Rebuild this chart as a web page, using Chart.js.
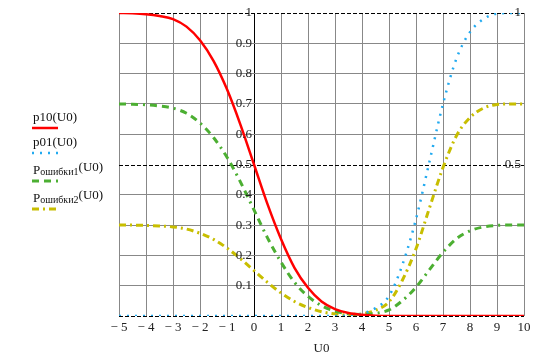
<!DOCTYPE html>
<html>
<head>
<meta charset="utf-8">
<script src="https://cdn.jsdelivr.net/npm/chart.js@4/dist/chart.umd.min.js"></script>
<style>
  html, body { margin: 0; padding: 0; background: #fff; }
  #wrap { width: 547px; height: 364px; }
</style>
</head>
<body>
<div id="wrap"><canvas id="chart"></canvas></div>
<script>
// U0 values (step 0.5) and the four curves
var u0 = [-5, -4.5, -4, -3.5, -3, -2.5, -2, -1.5, -1, -0.5, 0, 0.5, 1, 1.5, 2, 2.5, 3, 3.5, 4, 4.5, 5, 5.5, 6, 6.5, 7, 7.5, 8, 8.5, 9, 9.5, 10];
var p10 = [1.0, 0.999, 0.996, 0.99, 0.98, 0.955, 0.91, 0.842, 0.748, 0.631, 0.5, 0.369, 0.254, 0.159, 0.093, 0.048, 0.023, 0.01, 0.004, 0.001, 0, 0, 0, 0, 0, 0, 0, 0, 0, 0, 0];
var p01 = [0, 0, 0, 0, 0, 0, 0, 0, 0, 0, 0, 0, 0, 0, 0, 0, 0, 0, 0.008, 0.026, 0.066, 0.17, 0.32, 0.51, 0.70, 0.85, 0.937, 0.98, 0.998, 1.0, 1.0];
var pErr1 = [0.70, 0.699, 0.697, 0.693, 0.686, 0.669, 0.637, 0.589, 0.524, 0.442, 0.35, 0.258, 0.178, 0.111, 0.065, 0.034, 0.016, 0.007, 0.005, 0.009, 0.020, 0.051, 0.095, 0.153, 0.21, 0.255, 0.281, 0.294, 0.299, 0.3, 0.3];
var pErr2 = [0.30, 0.30, 0.299, 0.297, 0.294, 0.287, 0.273, 0.253, 0.224, 0.189, 0.15, 0.111, 0.076, 0.048, 0.028, 0.014, 0.007, 0.003, 0.007, 0.019, 0.047, 0.119, 0.222, 0.357, 0.49, 0.595, 0.655, 0.686, 0.698, 0.70, 0.70];

// dashed marker lines and their labels on the right
var markerLevels = [0, 0.5, 1];
var markerLabels = ['', '0.5', '1'];

var FONT = "'Liberation Serif', 'Times New Roman', serif";

function pairs(ys) {
	return u0.map(function(x, i) { return { x: x, y: ys[i] }; });
}

var mathcadDecor = {
	id: 'mathcadDecor',
	beforeDatasetsDraw: function(chart) {
		var ctx = chart.ctx, a = chart.chartArea, y = chart.scales.y;
		ctx.save();
		ctx.strokeStyle = '#000';
		ctx.lineWidth = 1;
		ctx.setLineDash([4, 2]);
		markerLevels.forEach(function(v) {
			var py = Math.round(y.getPixelForValue(v)) + 0.5;
			ctx.beginPath();
			ctx.moveTo(a.left, py);
			ctx.lineTo(a.right, py);
			ctx.stroke();
		});
		ctx.restore();
	},
	afterDraw: function(chart) {
		var ctx = chart.ctx, a = chart.chartArea, x = chart.scales.x, y = chart.scales.y;
		ctx.save();
		ctx.fillStyle = '#222';
		ctx.font = '13px ' + FONT;
		ctx.textBaseline = 'middle';

		// y tick labels next to the U0 = 0 axis
		ctx.textAlign = 'right';
		var x0 = x.getPixelForValue(0);
		y.ticks.forEach(function(t) {
			if (t.value <= 0) return;
			var lbl = Math.round(t.value * 10) / 10;
			ctx.fillText(String(lbl), x0 - 2, y.getPixelForValue(t.value));
		});

		// marker labels at the right edge
		markerLevels.forEach(function(v, i) {
			if (markerLabels[i]) ctx.fillText(markerLabels[i], a.right - 3, y.getPixelForValue(v));
		});

		// legend on the left
		ctx.textAlign = 'left';
		ctx.textBaseline = 'alphabetic';
		var ds = chart.data.datasets;
		var items = [
			{ main: 'p10(U0)', sub: '', tail: '', base: 121, line: 128 },
			{ main: 'p01(U0)', sub: '', tail: '', base: 146, line: 153 },
			{ main: 'P', sub: 'ошибки1', tail: '(U0)', base: 174, line: 181 },
			{ main: 'P', sub: 'ошибки2', tail: '(U0)', base: 202, line: 209 }
		];
		items.forEach(function(it, i) {
			var tx = 33;
			ctx.font = '13px ' + FONT;
			ctx.fillStyle = '#111';
			ctx.fillText(it.main, tx, it.base);
			tx += ctx.measureText(it.main).width;
			if (it.sub) {
				ctx.font = '10px ' + FONT;
				ctx.fillText(it.sub, tx, it.base + 1);
				tx += ctx.measureText(it.sub).width;
				ctx.font = '13px ' + FONT;
				ctx.fillText(it.tail, tx, it.base - 3);
			}
			ctx.strokeStyle = ds[i].borderColor;
			ctx.lineWidth = ds[i].borderWidth;
			ctx.setLineDash(ds[i].borderDash || []);
			ctx.beginPath();
			ctx.moveTo(32, it.line);
			ctx.lineTo(58, it.line);
			ctx.stroke();
		});
		ctx.restore();
	}
};

var chart = new Chart(document.getElementById('chart'), {
	type: 'line',
	data: {
		datasets: [
			{ label: 'p10(U0)', data: pairs(p10), borderColor: '#ff0000', borderWidth: 2.5, borderDash: [] },
			{ label: 'p01(U0)', data: pairs(p01), borderColor: '#22aaf0', borderWidth: 2.5, borderDash: [2, 6] },
			{ label: 'Pошибки1(U0)', data: pairs(pErr1), borderColor: '#4caf32', borderWidth: 3, borderDash: [7, 5, 7, 5, 2, 5] },
			{ label: 'Pошибки2(U0)', data: pairs(pErr2), borderColor: '#c8be00', borderWidth: 3, borderDash: [7, 4, 2, 4] }
		]
	},
	options: {
		responsive: true,
		maintainAspectRatio: false,
		animation: false,
		layout: { padding: { left: 119, right: 23, top: 13, bottom: 0 } },
		elements: {
			point: { radius: 0 },
			line: { cubicInterpolationMode: 'monotone', fill: false }
		},
		plugins: {
			legend: { display: false },
			tooltip: { enabled: false }
		},
		scales: {
			x: {
				type: 'linear',
				min: -5,
				max: 10,
				afterFit: function(s) { s.height = 48; },
				border: { display: false },
				grid: {
					drawTicks: false,
					color: function(c) { return c.tick && c.tick.value === 0 ? '#000' : '#888'; }
				},
				ticks: {
					stepSize: 1,
					padding: 4,
					color: '#222',
					font: { family: FONT, size: 13 },
					callback: function(v) { return v < 0 ? '\u2212 ' + Math.abs(v) : String(v); }
				},
				title: {
					display: true,
					text: 'U0',
					color: '#222',
					font: { family: FONT, size: 13 },
					padding: { top: 0, bottom: 8 }
				}
			},
			y: {
				min: 0,
				max: 1,
				afterFit: function(s) { s.width = 0; },
				border: { display: false },
				grid: {
					drawTicks: false,
					color: function(c) {
						var v = c.tick ? Math.round(c.tick.value * 10) / 10 : -1;
						return (v === 0 || v === 0.5 || v === 1) ? 'rgba(0,0,0,0)' : '#888';
					}
				},
				ticks: { stepSize: 0.1, display: false }
			}
		}
	},
	plugins: [mathcadDecor]
});
</script>
</body>
</html>
